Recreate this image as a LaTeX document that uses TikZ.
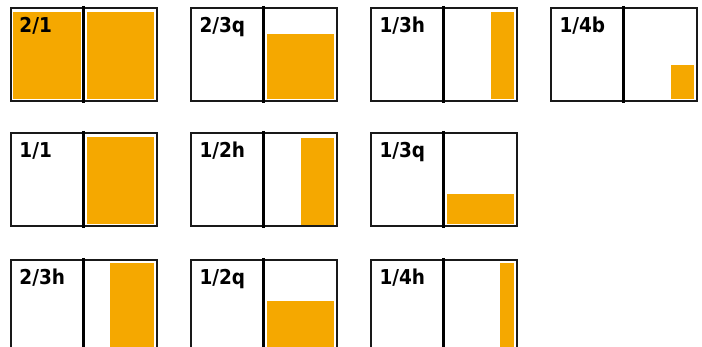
\documentclass[tikz,border=0pt]{standalone}
\usepackage{fontspec}
\newfontfamily\lblfont{DejaVu Sans}[FakeStretch=0.9]
\definecolor{pagefill}{RGB}{245,168,0}
\definecolor{pageline}{RGB}{25,25,25}
\tikzset{
  pagebox/.style={draw=pageline, line width=1.8pt, fill=white},
  spine/.style={draw=black, line width=2.4pt},
  ad/.style={fill=pagefill},
  lbl/.style={anchor=base west, inner sep=0pt, font=\lblfont\bfseries\fontsize{20.5}{24}\selectfont}
}
\begin{document}
\begin{tikzpicture}[x=1pt,y=-1pt]
\useasboundingbox (0,0) rectangle (702,347);
\clip (0,0) rectangle (702,347);
% row 1
\begin{scope}[shift={(11,8)}]
  \path[pagebox] (0,0) rectangle (146,93);
  \fill[ad] (1.6,3.6) rectangle (69.6,91);
  \fill[ad] (75.7,3.6) rectangle (143,91);
  \draw[spine] (72.5,-2.2) -- (72.5,95.5);
  \node[lbl] (l21) at (8.3,24.8) {2/1};
\end{scope}
\begin{scope}[shift={(191,8)}]
  \path[pagebox] (0,0) rectangle (146,93);
  \fill[ad] (75.7,25.7) rectangle (143,91);
  \draw[spine] (72.5,-2.2) -- (72.5,95.5);
  \node[lbl] (l23q) at (8.3,24.8) {2/3q};
\end{scope}
\begin{scope}[shift={(371,8)}]
  \path[pagebox] (0,0) rectangle (146,93);
  \fill[ad] (120,3.6) rectangle (143,91);
  \draw[spine] (72.5,-2.2) -- (72.5,95.5);
  \node[lbl] (l13h) at (8.3,24.8) {1/3h};
\end{scope}
\begin{scope}[shift={(551,8)}]
  \path[pagebox] (0,0) rectangle (146,93);
  \fill[ad] (120,57) rectangle (143,91);
  \draw[spine] (72.5,-2.2) -- (72.5,95.5);
  \node[lbl] (l14b) at (8.3,24.8) {1/4b};
\end{scope}
% row 2
\begin{scope}[shift={(11,133)}]
  \path[pagebox] (0,0) rectangle (146,93);
  \fill[ad] (75.7,3.6) rectangle (143,91);
  \draw[spine] (72.5,-2.2) -- (72.5,95.5);
  \node[lbl] (l11) at (8.3,24.8) {1/1};
\end{scope}
\begin{scope}[shift={(191,133)}]
  \path[pagebox] (0,0) rectangle (146,93);
  \fill[ad] (110,4.6) rectangle (143,91.6);
  \draw[spine] (72.5,-2.2) -- (72.5,95.5);
  \node[lbl] (l12h) at (8.3,24.8) {1/2h};
\end{scope}
\begin{scope}[shift={(371,133)}]
  \path[pagebox] (0,0) rectangle (146,93);
  \fill[ad] (75.7,61) rectangle (143,91);
  \draw[spine] (72.5,-2.2) -- (72.5,95.5);
  \node[lbl] (l13q) at (8.3,24.8) {1/3q};
\end{scope}
% row 3
\begin{scope}[shift={(11,260)}]
  \path[pagebox] (0,0) rectangle (146,93);
  \fill[ad] (99,3) rectangle (143,91);
  \draw[spine] (72.5,-2.2) -- (72.5,95.5);
  \node[lbl] (l23h) at (8.3,24.8) {2/3h};
\end{scope}
\begin{scope}[shift={(191,260)}]
  \path[pagebox] (0,0) rectangle (146,93);
  \fill[ad] (75.7,41) rectangle (143,91);
  \draw[spine] (72.5,-2.2) -- (72.5,95.5);
  \node[lbl] (l12q) at (8.3,24.8) {1/2q};
\end{scope}
\begin{scope}[shift={(371,260)}]
  \path[pagebox] (0,0) rectangle (146,93);
  \fill[ad] (129,3) rectangle (143,91);
  \draw[spine] (72.5,-2.2) -- (72.5,95.5);
  \node[lbl] (l14h) at (8.3,24.8) {1/4h};
\end{scope}
\end{tikzpicture}
\end{document}
